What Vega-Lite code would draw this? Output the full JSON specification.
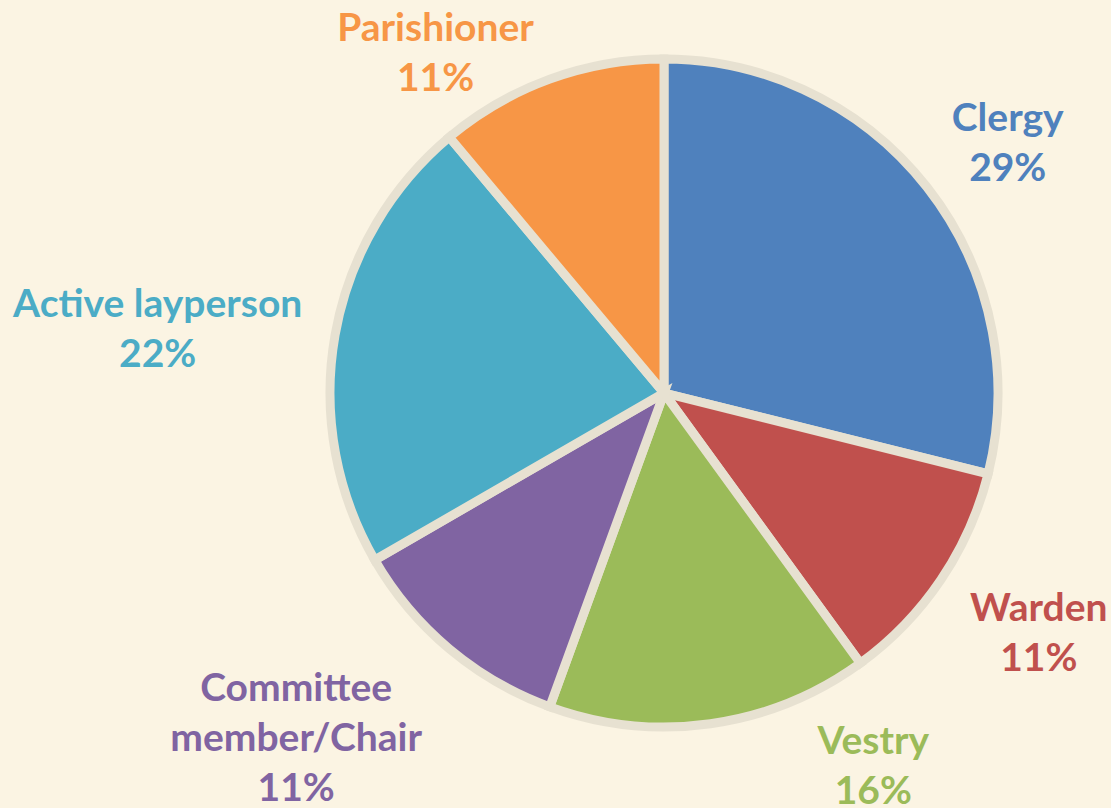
{
  "$schema": "https://vega.github.io/schema/vega-lite/v6.json",
  "width": 894,
  "height": 786,
  "autosize": "none",
  "padding": {"left": 217, "top": 0, "right": 0, "bottom": 22},
  "background": "#FBF4E3",
  "view": {"stroke": null},
  "data": {
    "values": [
      {"role": "Clergy", "order": 1, "count": 13, "label": "Clergy\n29%"},
      {"role": "Warden", "order": 2, "count": 5, "label": "Warden\n11%"},
      {"role": "Vestry", "order": 3, "count": 7, "label": "Vestry\n16%"},
      {"role": "Committee member/Chair", "order": 4, "count": 5, "label": "Committee\nmember/Chair\n11%"},
      {"role": "Active layperson", "order": 5, "count": 10, "label": "Active layperson\n22%"},
      {"role": "Parishioner", "order": 6, "count": 5, "label": "Parishioner\n11%"}
    ]
  },
  "encoding": {
    "theta": {"field": "count", "type": "quantitative", "stack": true},
    "order": {"field": "order", "type": "quantitative"},
    "color": {
      "field": "role",
      "type": "nominal",
      "legend": null,
      "scale": {
        "domain": ["Clergy", "Warden", "Vestry", "Committee member/Chair", "Active layperson", "Parishioner"],
        "range": ["#4F81BD", "#C0504D", "#9BBB59", "#8064A2", "#4BACC6", "#F79646"]
      }
    }
  },
  "layer": [
    {
      "mark": {"type": "arc", "outerRadius": 334, "stroke": "#E7E1D1", "strokeWidth": 9, "strokeJoin": "miter"}
    },
    {
      "mark": {
        "type": "text",
        "radius": 440,
        "font": "Lato",
        "fontWeight": "bold",
        "fontSize": 39,
        "lineHeight": 50,
        "lineBreak": "\n",
        "align": "center",
        "baseline": "middle",
        "dx": {"expr": "datum.role === 'Clergy' ? -3 : datum.role === 'Warden' ? 10 : datum.role === 'Vestry' ? 148 : datum.role === 'Committee member/Chair' ? -85 : datum.role === 'Active layperson' ? -73 : -78"},
        "dy": {"expr": "datum.role === 'Clergy' ? -3 : datum.role === 'Warden' ? -30 : datum.role === 'Vestry' ? -87 : datum.role === 'Committee member/Chair' ? -41 : datum.role === 'Active layperson' ? -12 : 49"}
      },
      "encoding": {
        "text": {"field": "label", "type": "nominal"}
      }
    }
  ]
}
